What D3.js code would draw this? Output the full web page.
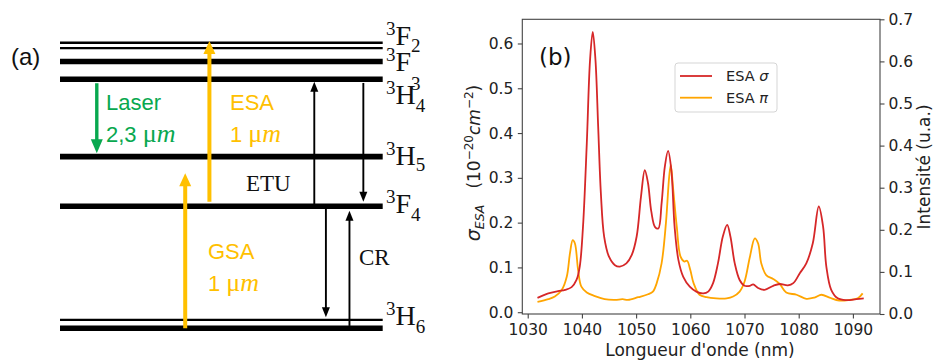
<!DOCTYPE html>
<html>
<head>
<meta charset="utf-8">
<script src="https://cdn.jsdelivr.net/npm/d3@7"></script>
<style>
  html, body { margin: 0; padding: 0; background: #fff; }
  svg { display: block; }
</style>
</head>
<body>
<svg id="fig" width="935" height="361"></svg>
<script>
// ---------------- DATA ----------------
// (a) energy-level diagram (relative energies, arbitrary units)
const levelLetters = ['F', 'F', 'H', 'H', 'F', 'H'];
const levelJ = ['2', '3', '4', '5', '4', '6'];
const levelSublines = [[98.1, 100], [93.4], [87.2], [60.1], [42.7], [0, 2.9]];
// transitions: column (0-100 across the diagram), from/to energy
const transitionNames = ['Laser', 'ESA', 'GSA', 'ETU up', 'ETU down', 'CR down', 'CR up'];
const transitionCols = [11.4, 46.3, 38.8, 78.8, 94.0, 82.4, 89.7];
const transitionFrom = [85.8, 44.3, 0.0, 42.7, 85.9, 42.1, 0.8];
const transitionTo = [61.3, 100.6, 54.3, 86.3, 44.3, 3.8, 41.1];

// (b) ESA spectra
const sigmaWl = [1031.8, 1033.8, 1035.6, 1036.9, 1038.1, 1039.0, 1039.6, 1040.2, 1040.9, 1041.5, 1042.0, 1042.5, 1043.0, 1043.5, 1044.1, 1045.0, 1046.1, 1047.0, 1048.2, 1049.2, 1050.1, 1050.9, 1051.6, 1052.2, 1052.8, 1053.5, 1054.1, 1054.7, 1055.3, 1055.9, 1056.5, 1057.1, 1057.8, 1058.7, 1059.9, 1061.1, 1062.4, 1063.3, 1064.2, 1065.1, 1066.0, 1066.8, 1067.4, 1068.2, 1069.1, 1070.0, 1071.0, 1071.6, 1072.5, 1073.7, 1075.3, 1076.5, 1078.0, 1079.0, 1080.2, 1081.4, 1082.6, 1083.7, 1084.5, 1085.1, 1086.0, 1087.2, 1088.8, 1090.6, 1092.0];
const sigmaVal = [0.032, 0.042, 0.047, 0.050, 0.056, 0.072, 0.102, 0.191, 0.377, 0.563, 0.626, 0.563, 0.414, 0.265, 0.169, 0.124, 0.105, 0.102, 0.109, 0.128, 0.169, 0.258, 0.317, 0.288, 0.225, 0.190, 0.187, 0.243, 0.325, 0.360, 0.317, 0.191, 0.117, 0.079, 0.057, 0.046, 0.042, 0.046, 0.065, 0.109, 0.169, 0.195, 0.169, 0.109, 0.072, 0.059, 0.059, 0.062, 0.054, 0.050, 0.059, 0.063, 0.060, 0.065, 0.087, 0.109, 0.154, 0.236, 0.191, 0.102, 0.050, 0.031, 0.027, 0.029, 0.031];
const piWl = [1031.8, 1033.8, 1035.0, 1036.3, 1037.2, 1037.8, 1038.3, 1038.7, 1039.3, 1039.9, 1040.9, 1042.4, 1044.2, 1046.1, 1047.5, 1048.5, 1050.4, 1052.2, 1053.1, 1053.8, 1054.7, 1055.5, 1056.1, 1056.4, 1056.8, 1057.5, 1058.2, 1058.9, 1059.4, 1060.0, 1060.6, 1061.7, 1063.0, 1064.8, 1066.7, 1067.9, 1069.1, 1070.0, 1071.0, 1071.9, 1072.5, 1073.1, 1074.0, 1075.3, 1076.5, 1077.7, 1079.6, 1081.4, 1082.9, 1084.2, 1085.7, 1087.5, 1089.4, 1090.9, 1091.8];
const piVal = [0.023, 0.029, 0.035, 0.050, 0.079, 0.132, 0.161, 0.154, 0.094, 0.057, 0.044, 0.036, 0.029, 0.0275, 0.029, 0.0275, 0.0335, 0.040, 0.046, 0.065, 0.109, 0.199, 0.302, 0.329, 0.280, 0.191, 0.124, 0.113, 0.115, 0.094, 0.065, 0.039, 0.0335, 0.031, 0.031, 0.035, 0.046, 0.068, 0.124, 0.165, 0.154, 0.109, 0.083, 0.074, 0.063, 0.044, 0.039, 0.030, 0.0326, 0.039, 0.0326, 0.026, 0.0275, 0.031, 0.042];
const xTicks = [1030, 1040, 1050, 1060, 1070, 1080, 1090];
const yLeftTicks = [0.0, 0.1, 0.2, 0.3, 0.4, 0.5, 0.6];
const yRightTicks = [0.0, 0.1, 0.2, 0.3, 0.4, 0.5, 0.6, 0.7];
const seriesNames = ['ESA σ', 'ESA π'];

// ---------------- DRAW ----------------
const svg = d3.select('#fig');
svg.append('rect').attr('width', 935).attr('height', 361).attr('fill', '#fff');

// ===== (a) diagram =====
const SERIF = "'Liberation Serif', 'Times New Roman', serif";
const SANS = "'Liberation Sans', Arial, sans-serif";
const gA = svg.append('g');
const eY = d3.scaleLinear().domain([0, 100]).range([328.2, 42.7]);
const cX = d3.scaleLinear().domain([0, 100]).range([60, 382.7]);

gA.append('text').attr('x', 11).attr('y', 65).attr('font-family', SANS)
  .attr('font-size', 24).attr('fill', '#111').text('(a)');

levelSublines.forEach((subs, i) => {
  subs.forEach((e, j) => {
    const thin = subs.length > 1 && (i === 0 || j === 1);
    gA.append('line').attr('x1', cX(0)).attr('x2', cX(100))
      .attr('y1', eY(e)).attr('y2', eY(e))
      .attr('stroke', '#000').attr('stroke-width', thin ? 2.4 : 5.6);
  });
});

// level labels
const labelBase = [45, 71, 104, 165, 213, 325];
const subDy = [7, 19, 8, 6, 8, 8];
levelLetters.forEach((L, i) => {
  const t = gA.append('text').attr('x', 386).attr('y', labelBase[i])
    .attr('font-family', SERIF).attr('fill', '#111');
  t.append('tspan').attr('font-size', 19).attr('dy', -10).text('3');
  t.append('tspan').attr('font-size', 28).attr('dy', 10).text(L);
  t.append('tspan').attr('font-size', 19).attr('dy', subDy[i]).text(levelJ[i]);
});

// transitions
const tStyle = {
  'Laser': { c: '#08a84f', w: 3.4, hw: 12, hl: 14 },
  'ESA': { c: '#ffc000', w: 4, hw: 12, hl: 13 },
  'GSA': { c: '#ffc000', w: 4, hw: 12, hl: 13 },
  'ETU up': { c: '#000', w: 1.9, hw: 8, hl: 10 },
  'ETU down': { c: '#000', w: 1.9, hw: 8, hl: 10 },
  'CR down': { c: '#000', w: 1.9, hw: 8, hl: 10 },
  'CR up': { c: '#000', w: 1.9, hw: 8, hl: 10 }
};
transitionNames.forEach((n, i) => {
  const s = tStyle[n];
  const x = cX(transitionCols[i]);
  const y0 = eY(transitionFrom[i]);
  const y1 = eY(transitionTo[i]);
  const dir = y1 < y0 ? -1 : 1;
  gA.append('line').attr('x1', x).attr('x2', x).attr('y1', y0).attr('y2', y1 - dir * s.hl * 0.8)
    .attr('stroke', s.c).attr('stroke-width', s.w);
  gA.append('path')
    .attr('d', `M${x},${y1} L${x - s.hw / 2},${y1 - dir * s.hl} L${x + s.hw / 2},${y1 - dir * s.hl} Z`)
    .attr('fill', s.c);
});

function umText(x, y, prefix, color) {
  const t = gA.append('text').attr('x', x).attr('y', y).attr('fill', color);
  t.append('tspan').attr('font-family', SANS).attr('font-size', 22).text(prefix);
  t.append('tspan').attr('font-family', SERIF).attr('font-size', 26).text('μ');
  t.append('tspan').attr('font-family', SERIF).attr('font-style', 'italic').attr('font-size', 26).text('m');
}
gA.append('text').attr('x', 106).attr('y', 110).attr('font-family', SANS).attr('font-size', 22)
  .attr('fill', '#08a84f').text('Laser');
umText(106, 142, '2,3 ', '#08a84f');
gA.append('text').attr('x', 230).attr('y', 110).attr('font-family', SANS).attr('font-size', 22)
  .attr('fill', '#ffc000').text('ESA');
umText(230, 142, '1 ', '#ffc000');
gA.append('text').attr('x', 208).attr('y', 259).attr('font-family', SANS).attr('font-size', 22)
  .attr('fill', '#ffc000').text('GSA');
umText(208, 291, '1 ', '#ffc000');
gA.append('text').attr('x', 246).attr('y', 191).attr('font-family', SERIF).attr('font-size', 23)
  .attr('fill', '#111').text('ETU');
gA.append('text').attr('x', 359).attr('y', 265).attr('font-family', SERIF).attr('font-size', 23)
  .attr('fill', '#111').text('CR');

// ===== (b) chart =====
const DV = "'DejaVu Sans', sans-serif";
const gB = svg.append('g').attr('font-family', DV);
const L = 522.3, R = 880, T = 19.3, B = 314;
const x = d3.scaleLinear().domain([1029, 1095]).range([L, R]);
const yL = d3.scaleLinear().domain([-0.004, 0.654]).range([B, T]);
const yR = d3.scaleLinear().domain([0, 0.7]).range([B, T]);

const line = d3.line().x(d => x(d[0])).y(d => yL(d[1])).curve(d3.curveCatmullRom.alpha(0.5));
const sigmaPts = sigmaWl.map((w, i) => [w, sigmaVal[i]]);
const piPts = piWl.map((w, i) => [w, piVal[i]]);
const colors = ['#d62728', '#ffa500'];

gB.append('path').datum(piPts).attr('d', line).attr('fill', 'none')
  .attr('stroke', colors[1]).attr('stroke-width', 1.8);
gB.append('path').datum(sigmaPts).attr('d', line).attr('fill', 'none')
  .attr('stroke', colors[0]).attr('stroke-width', 1.8);

// frame
gB.append('rect').attr('x', L).attr('y', T).attr('width', R - L).attr('height', B - T)
  .attr('fill', 'none').attr('stroke', '#444').attr('stroke-width', 1.1);

function styleAxis(g) {
  g.select('.domain').remove();
  g.selectAll('.tick line').attr('stroke', '#444').attr('stroke-width', 1.1);
  g.selectAll('.tick text').attr('font-family', DV).attr('font-size', 15.5).attr('fill', '#222');
}
gB.append('g').attr('transform', `translate(0,${B})`)
  .call(d3.axisBottom(x).tickValues(xTicks).tickFormat(d3.format('d')).tickSize(4.5).tickPadding(5))
  .call(styleAxis);
gB.append('g').attr('transform', `translate(${L},0)`)
  .call(d3.axisLeft(yL).tickValues(yLeftTicks).tickFormat(d3.format('.1f')).tickSize(4.5).tickPadding(4.5))
  .call(styleAxis);
gB.append('g').attr('transform', `translate(${R},0)`)
  .call(d3.axisRight(yR).tickValues(yRightTicks).tickFormat(d3.format('.1f')).tickSize(4.5).tickPadding(4))
  .call(styleAxis);

// axis labels
gB.append('text').attr('x', 700).attr('y', 356).attr('text-anchor', 'middle')
  .attr('font-size', 17).attr('fill', '#222').text("Longueur d'onde (nm)");
gB.append('text').attr('transform', 'translate(930,167) rotate(-90)').attr('text-anchor', 'middle')
  .attr('font-size', 17).attr('fill', '#222').text('Intensité (u.a.)');
const yl = gB.append('text').attr('transform', 'translate(480,163) rotate(-90)')
  .attr('text-anchor', 'middle').attr('font-size', 17).attr('fill', '#222');
yl.append('tspan').attr('font-style', 'italic').attr('font-size', 19).text('σ');
yl.append('tspan').attr('font-style', 'italic').attr('font-size', 12.5).attr('dy', 4).text('ESA');
yl.append('tspan').attr('dy', -4).text('\u00a0\u00a0\u00a0(10');
yl.append('tspan').attr('font-size', 12).attr('dy', -7).text('−20');
yl.append('tspan').attr('font-style', 'italic').attr('dy', 7).text('cm');
yl.append('tspan').attr('font-size', 12).attr('dy', -7).text('−2');
yl.append('tspan').attr('dy', 7).text(')');

// (b) label
gB.append('text').attr('x', 539).attr('y', 65).attr('font-size', 23).attr('fill', '#111').text('(b)');

// legend
const lg = gB.append('g');
lg.append('rect').attr('x', 675).attr('y', 63).attr('width', 102).attr('height', 49).attr('rx', 3)
  .attr('fill', '#fff').attr('fill-opacity', 0.85).attr('stroke', '#d5d5d5').attr('stroke-width', 1);
seriesNames.forEach((n, i) => {
  const yy = 76 + i * 21.7;
  lg.append('line').attr('x1', 680).attr('x2', 712).attr('y1', yy).attr('y2', yy)
    .attr('stroke', colors[i]).attr('stroke-width', 1.8);
  const t = lg.append('text').attr('x', 726).attr('y', yy + 5).attr('font-size', 14.5).attr('fill', '#222');
  const parts = n.split(' ');
  t.append('tspan').text(parts[0] + ' ');
  t.append('tspan').attr('font-style', 'italic').text(parts[1]);
});
</script>
</body>
</html>
